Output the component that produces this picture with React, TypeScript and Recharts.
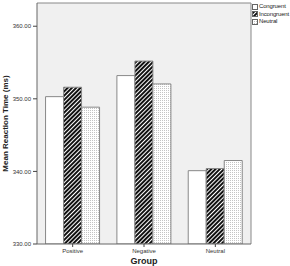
import React from 'react';
import { BarChart, Bar, XAxis, YAxis, CartesianGrid } from 'recharts';

const categories = ['Positive', 'Negative', 'Neutral'];
const congruent = [350.3, 353.2, 340.1];
const incongruent = [351.6, 355.2, 340.4];
const neutral = [348.85, 352.05, 341.5];
const yTicks = [330, 340, 350, 360];
const seriesNames = ['Congruent', 'Incongruent', 'Neutral'];

const data = categories.map((c, i) => ({
  group: c,
  Congruent: congruent[i],
  Incongruent: incongruent[i],
  Neutral: neutral[i],
}));

const fills = ['#ffffff', 'url(#stripes)', 'url(#dots)'];
const FONT = 'Arial, "Liberation Sans", sans-serif';

const LegendBox = () => (
  <div style={{ position: 'absolute', left: 252, top: 3, fontFamily: FONT, fontSize: 6, letterSpacing: -0.15, color: '#222', lineHeight: '7.5px' }}>
    {seriesNames.map((n, i) => (
      <div key={n} style={{ display: 'flex', alignItems: 'center', height: 7.5, whiteSpace: 'nowrap' }}>
        <svg width={6} height={6} style={{ marginRight: 1, flex: 'none' }}>
          <rect x={0.5} y={0.5} width={5} height={5} fill={fills[i]} stroke="#666" strokeWidth={1} />
        </svg>
        <span>{n}</span>
      </div>
    ))}
  </div>
);

export default function App() {
  return (
    <div style={{ position: 'absolute', left: 0, top: 0, width: 290, height: 266, background: '#fff', overflow: 'hidden' }}>
      <svg width={0} height={0} style={{ position: 'absolute' }}>
        <defs>
          <pattern id="stripes" width={3} height={3} patternUnits="userSpaceOnUse" patternTransform="rotate(45)">
            <rect width={3} height={3} fill="#111" />
            <rect x={0} y={0} width={1} height={3} fill="#fff" />
          </pattern>
          <pattern id="dots" width={2} height={2} patternUnits="userSpaceOnUse">
            <rect width={2} height={2} fill="#fff" />
            <rect x={0} y={0} width={1} height={1} fill="#c4c4c4" />
          </pattern>
        </defs>
      </svg>
      <BarChart
        width={290}
        height={266}
        data={data}
        margin={{ top: 3, right: 39, left: 0, bottom: 0 }}
        barCategoryGap="12%"
        barGap={0}
      >
        <CartesianGrid
          fill="#f0f0f0"
          stroke="#888"
          horizontalPoints={[3]}
          verticalPoints={[251]}
        />
        <XAxis
          dataKey="group"
          height={22}
          axisLine={{ stroke: '#666' }}
          tickLine={{ stroke: '#444' }}
          tickSize={3}
          tick={{ fontSize: 6, fill: '#333', fontFamily: FONT }}
          interval={0}
          label={{ value: 'Group', position: 'insideBottom', offset: 2, style: { fontSize: 9, fontWeight: 'bold', fill: '#222', fontFamily: FONT } }}
        />
        <YAxis
          width={37}
          domain={[330, 363.2]}
          ticks={yTicks}
          allowDataOverflow
          tickFormatter={(v: number) => v.toFixed(2)}
          axisLine={{ stroke: '#666' }}
          tickLine={{ stroke: '#444' }}
          tickSize={4}
          tick={{ fontSize: 6, fill: '#333', fontFamily: FONT }}
          label={{ value: 'Mean Reaction Time (ms)', angle: -90, position: 'insideLeft', offset: 5, style: { textAnchor: 'middle', fontSize: 8, fontWeight: 'bold', fill: '#222', fontFamily: FONT } }}
        />
        {seriesNames.map((n, i) => (
          <Bar key={n} dataKey={n} fill={fills[i]} stroke="#888" strokeWidth={1} isAnimationActive={false} />
        ))}
      </BarChart>
      <LegendBox />
    </div>
  );
}
